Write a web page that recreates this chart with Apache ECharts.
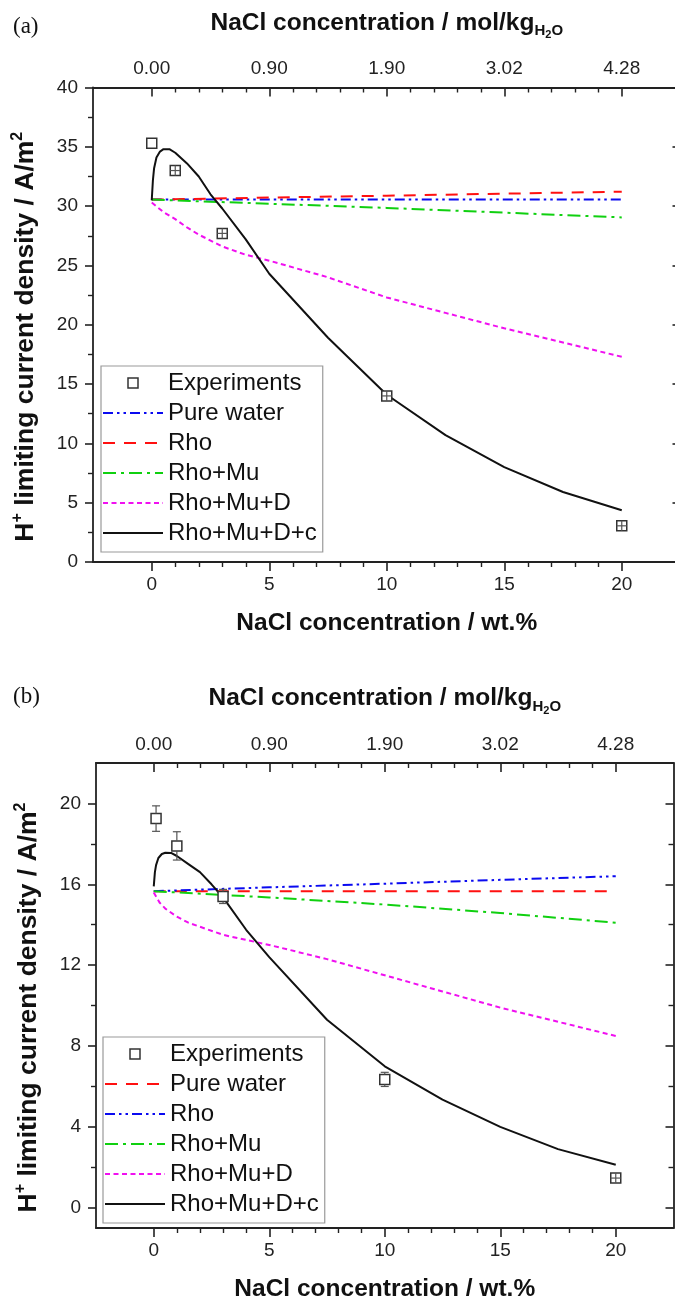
<!DOCTYPE html>
<html><head><meta charset="utf-8">
<script src="https://cdn.jsdelivr.net/npm/echarts@6/dist/echarts.min.js"></script>
<style>html,body{margin:0;padding:0;background:#fff}#c{width:675px;height:1300px}</style>
</head><body><div id="c"></div>
<script>
// ---------------- data ----------------
const wtTicks = [0, 5, 10, 15, 20];
const molLabels = ['0.00', '0.90', '1.90', '3.02', '4.28'];
const wtMinor = [1, 2, 3, 4, 6, 7, 8, 9, 11, 12, 13, 14, 16, 17, 18, 19];

// panel (a)
const aYTicks = [0, 5, 10, 15, 20, 25, 30, 35, 40];
const aYMinor = [2.5, 7.5, 12.5, 17.5, 22.5, 27.5, 32.5, 37.5];
const aExpX = [0, 1, 3, 10, 20];
const aExpY = [35.3, 33.0, 27.7, 14.0, 3.05];
const aExpErr = [0.1, 0.25, 0.3, 0.3, 0.3];
const aFlatX = [0, 5, 10, 15, 20];
const aPure = [30.55, 30.55, 30.55, 30.55, 30.55];
const aRho = [30.55, 30.72, 30.88, 31.05, 31.22];
const aRhoMu = [30.55, 30.2, 29.85, 29.45, 29.05];
const aDX = [0, 0.25, 0.5, 1, 1.5, 2, 3, 4, 5, 7.5, 10, 12.5, 15, 17.5, 20];
const aD = [30.3, 29.9, 29.5, 28.9, 28.2, 27.6, 26.6, 25.9, 25.4, 24.0, 22.3, 21.0, 19.7, 18.5, 17.3];
const aCX = [0, 0.05, 0.1, 0.2, 0.35, 0.5, 0.75, 1, 1.5, 2, 2.5, 3, 4, 5, 7.5, 10, 12.5, 15, 17.5, 20];
const aC = [30.5, 32.2, 33.2, 34.1, 34.6, 34.8, 34.8, 34.5, 33.6, 32.5, 31.0, 29.8, 27.2, 24.3, 18.9, 14.1, 10.7, 8.0, 5.9, 4.36];

// panel (b)
const bYTicks = [0, 4, 8, 12, 16, 20];
const bYMinor = [2, 6, 10, 14, 18];
const bExpX = [0.1, 1, 3, 10, 20];
const bExpY = [19.25, 17.9, 15.4, 6.35, 1.47];
const bExpErr = [0.63, 0.7, 0.35, 0.35, 0.2];
const bFlatX = [0, 5, 10, 15, 20];
const bPure = [15.66, 15.66, 15.66, 15.66, 15.66];
const bRho = [15.66, 15.85, 16.03, 16.22, 16.4];
const bRhoMu = [15.66, 15.35, 15.0, 14.58, 14.1];
const bDX = [0, 0.25, 0.5, 1, 1.5, 2, 3, 4, 5, 7.5, 10, 12.5, 15, 17.5, 20];
const bD = [15.6, 15.1, 14.8, 14.4, 14.1, 13.9, 13.5, 13.25, 13.0, 12.3, 11.5, 10.7, 9.9, 9.2, 8.5];
const bCX = [0, 0.05, 0.1, 0.2, 0.35, 0.5, 0.75, 1, 1.5, 2, 2.5, 3, 4, 5, 7.5, 10, 12.5, 15, 17.5, 20];
const bC = [15.9, 16.6, 16.95, 17.3, 17.5, 17.56, 17.55, 17.4, 17.0, 16.6, 16.0, 15.35, 13.75, 12.4, 9.3, 7.0, 5.35, 4.0, 2.9, 2.13];

const legendNames = ['Experiments', 'Pure water', 'Rho', 'Rho+Mu', 'Rho+Mu+D', 'Rho+Mu+D+c'];

// ---------------- helpers ----------------
const FONT = '"Liberation Sans", Arial, sans-serif';
const AX = '#222';
const zip = (xs, ys) => xs.map((x, i) => [x, ys[i]]);
const zip3 = (xs, ys, es) => xs.map((x, i) => [x, ys[i], es[i]]);

const BLUE = '#0a0af0', RED = '#ff1010', GREEN = '#10d010', MAG = '#f010f0', BLACK = '#111';
const DASH_DDOT = [10, 4, 2.5, 4, 2.5, 4];
const DASH_LONG = [12, 9];
const DASH_DOT = [13, 5, 3, 5];
const DASH_SHORT = [5, 3.5];

const xTitleStyle = {fontFamily: FONT, fontWeight: 'bold', fontSize: 24.5, color: '#111'};
const topTitle = '{t|NaCl concentration / mol/kg}{s|H}{ss|2}{s|O}';
const topTitleStyle = {
  fontFamily: FONT, fontWeight: 'bold', fontSize: 24.5, color: '#111',
  rich: {
    t: {fontFamily: FONT, fontWeight: 'bold', fontSize: 24.5, color: '#111'},
    s: {fontFamily: FONT, fontWeight: 'bold', fontSize: 15, color: '#111', padding: [16, 0, 0, 0]},
    ss: {fontFamily: FONT, fontWeight: 'bold', fontSize: 11, color: '#111', padding: [24, 0, 0, 0]}
  }
};
const yTitle = '{t|H}{p|+}{t| limiting current density / A/m}{p|2}';
const yTitleStyle = {
  fontFamily: FONT, fontWeight: 'bold', fontSize: 26.5, color: '#111', padding: [0, 24, 0, 0],
  rich: {
    t: {fontFamily: FONT, fontWeight: 'bold', fontSize: 26.5, color: '#111'},
    p: {fontFamily: FONT, fontWeight: 'bold', fontSize: 16, color: '#111', padding: [0, 0, 15, 0]}
  }
};
const labelStyle = {fontFamily: FONT, fontSize: 19, color: '#222'};

function xAxes(g, topGap) {
  const base = {gridIndex: g, type: 'value', min: -2.5, max: 22.5, splitLine: {show: false}};
  const line = {show: true, onZero: false, lineStyle: {color: AX, width: 1.8}};
  const noLine = {show: false, onZero: false};
  return [
    Object.assign({}, base, {
      position: 'bottom', axisLine: line,
      axisTick: {customValues: wtTicks, length: 9, lineStyle: {color: AX, width: 1.6}},
      axisLabel: Object.assign({customValues: wtTicks, margin: 13}, labelStyle),
      name: 'NaCl concentration / wt.%', nameLocation: 'middle', nameGap: 49, nameTextStyle: xTitleStyle
    }),
    Object.assign({}, base, {
      position: 'bottom', axisLine: noLine,
      axisTick: {customValues: wtMinor, length: 5, lineStyle: {color: AX, width: 1.4}},
      axisLabel: {show: false}
    }),
    Object.assign({}, base, {
      position: 'top', axisLine: line,
      axisTick: {inside: true, customValues: wtTicks, length: 9, lineStyle: {color: AX, width: 1.6}},
      axisLabel: Object.assign({customValues: wtTicks, margin: 9,
        formatter: v => molLabels[wtTicks.indexOf(Math.round(v))] || ''}, labelStyle),
      name: topTitle, nameLocation: 'middle', nameGap: topGap, nameTextStyle: topTitleStyle
    }),
    Object.assign({}, base, {
      position: 'top', axisLine: noLine,
      axisTick: {inside: true, customValues: wtMinor, length: 5, lineStyle: {color: AX, width: 1.4}},
      axisLabel: {show: false}
    })
  ];
}
function yAxes(g, min, max, ticks, minor) {
  const base = {gridIndex: g, type: 'value', min: min, max: max, splitLine: {show: false}};
  const line = {show: true, onZero: false, lineStyle: {color: AX, width: 1.8}};
  const noLine = {show: false, onZero: false};
  return [
    Object.assign({}, base, {
      position: 'left', axisLine: line,
      axisTick: {customValues: ticks, length: 8, lineStyle: {color: AX, width: 1.6}},
      axisLabel: Object.assign({customValues: ticks, margin: 15}, labelStyle),
      name: yTitle, nameLocation: 'middle', nameRotate: 90, nameGap: 52, nameTextStyle: yTitleStyle
    }),
    Object.assign({}, base, {
      position: 'left', axisLine: noLine,
      axisTick: {customValues: minor, length: 5, lineStyle: {color: AX, width: 1.4}},
      axisLabel: {show: false}
    }),
    Object.assign({}, base, {
      position: 'right', axisLine: line,
      axisTick: {inside: true, customValues: ticks, length: 8, lineStyle: {color: AX, width: 1.6}},
      axisLabel: {show: false}
    }),
    Object.assign({}, base, {
      position: 'right', axisLine: noLine,
      axisTick: {inside: true, customValues: minor, length: 5, lineStyle: {color: AX, width: 1.4}},
      axisLabel: {show: false}
    })
  ];
}

function lineSeries(name, xi, yi, xs, ys, color, dash) {
  return {
    name: name, type: 'line', xAxisIndex: xi, yAxisIndex: yi, data: zip(xs, ys),
    symbol: 'none', smooth: false, z: 2,
    lineStyle: {color: color, width: 2, type: dash}, itemStyle: {color: color}
  };
}
function expSeries(name, xi, yi, xs, ys) {
  return {
    name: name, type: 'scatter', xAxisIndex: xi, yAxisIndex: yi, data: zip(xs, ys),
    symbol: 'rect', symbolSize: 10, z: 4,
    itemStyle: {color: '#fff', borderColor: '#333', borderWidth: 1.5, opacity: 1}
  };
}
const HALF = 5;
function errRender(params, api) {
  const x = api.value(0), y = api.value(1), e = api.value(2);
  const c = api.coord([x, y]);
  const t = api.coord([x, y + e]);
  const b = api.coord([x, y - e]);
  const st = {stroke: '#555', lineWidth: 1.2, fill: null};
  const ch = [];
  const cap = 4;
  const ePx = c[1] - t[1];
  if (ePx > HALF) {
    ch.push({type: 'line', shape: {x1: c[0], y1: t[1], x2: c[0], y2: c[1] - HALF}, style: st});
    ch.push({type: 'line', shape: {x1: c[0], y1: c[1] + HALF, x2: c[0], y2: b[1]}, style: st});
    ch.push({type: 'line', shape: {x1: c[0] - cap, y1: t[1], x2: c[0] + cap, y2: t[1]}, style: st});
    ch.push({type: 'line', shape: {x1: c[0] - cap, y1: b[1], x2: c[0] + cap, y2: b[1]}, style: st});
  } else if (ePx > 2) {
    ch.push({type: 'line', shape: {x1: c[0], y1: c[1] - HALF, x2: c[0], y2: c[1] + HALF}, style: st});
    ch.push({type: 'line', shape: {x1: c[0] - HALF, y1: c[1], x2: c[0] + HALF, y2: c[1]}, style: st});
  }
  return {type: 'group', children: ch};
}
function errSeries(xi, yi, xs, ys, es) {
  return {
    name: 'err' + xi, type: 'custom', xAxisIndex: xi, yAxisIndex: yi, z: 5,
    data: zip3(xs, ys, es), renderItem: errRender, silent: true
  };
}
const SQ = 'path://M0,0M60,14M25,2h10v10h-10z';
function legendOf(prefix, left, top) {
  return {
    orient: 'vertical', left: left, top: top, itemWidth: 60, itemHeight: 14, itemGap: 0,
    padding: [2, 6, 4, 1], backgroundColor: '#fff', borderColor: '#9a9a9a', borderWidth: 1.2,
    selectedMode: false,
    itemStyle: {opacity: 0},
    textStyle: {fontFamily: FONT, fontSize: 24, lineHeight: 30, color: '#111'},
    formatter: n => n.replace(prefix, ''),
    data: legendNames.map((n, i) => i === 0
      ? {name: prefix + n, icon: SQ, itemStyle: {color: '#fff', borderColor: '#333', borderWidth: 1.5, opacity: 1}}
      : {name: prefix + n})
  };
}

const serifTitle = {fontFamily: '"Liberation Serif", "Times New Roman", serif', fontSize: 23, fontWeight: 'normal', color: '#111'};
const option = {
  animation: false,
  backgroundColor: '#fff',
  title: [
    {text: '(a)', left: 8, top: 10, textStyle: serifTitle},
    {text: '(b)', left: 8, top: 680, textStyle: serifTitle}
  ],
  grid: [
    {left: 93, top: 87.5, width: 587.5, height: 474.5, containLabel: false, outerBoundsMode: 'none'},
    {left: 96, top: 763, width: 577.5, height: 465, containLabel: false, outerBoundsMode: 'none'}
  ],
  xAxis: xAxes(0, 47).concat(xAxes(1, 47)),
  yAxis: yAxes(0, 0, 40, aYTicks, aYMinor).concat(yAxes(1, -1, 22, bYTicks, bYMinor)),
  legend: [legendOf('', 101, 366), legendOf('b-', 103, 1037)],
  series: [
    lineSeries('Pure water', 0, 0, aFlatX, aPure, BLUE, DASH_DDOT),
    lineSeries('Rho', 0, 0, aFlatX, aRho, RED, DASH_LONG),
    lineSeries('Rho+Mu', 0, 0, aFlatX, aRhoMu, GREEN, DASH_DOT),
    lineSeries('Rho+Mu+D', 0, 0, aDX, aD, MAG, DASH_SHORT),
    lineSeries('Rho+Mu+D+c', 0, 0, aCX, aC, BLACK, 'solid'),
    expSeries('Experiments', 0, 0, aExpX, aExpY),
    errSeries(0, 0, aExpX, aExpY, aExpErr),

    lineSeries('b-Pure water', 4, 4, bFlatX, bPure, RED, DASH_LONG),
    lineSeries('b-Rho', 4, 4, bFlatX, bRho, BLUE, DASH_DDOT),
    lineSeries('b-Rho+Mu', 4, 4, bFlatX, bRhoMu, GREEN, DASH_DOT),
    lineSeries('b-Rho+Mu+D', 4, 4, bDX, bD, MAG, DASH_SHORT),
    lineSeries('b-Rho+Mu+D+c', 4, 4, bCX, bC, BLACK, 'solid'),
    expSeries('b-Experiments', 4, 4, bExpX, bExpY),
    errSeries(4, 4, bExpX, bExpY, bExpErr)
  ]
};
const chart = echarts.init(document.getElementById('c'), null, {renderer: 'canvas'});
chart.setOption(option);
</script>
</body></html>
